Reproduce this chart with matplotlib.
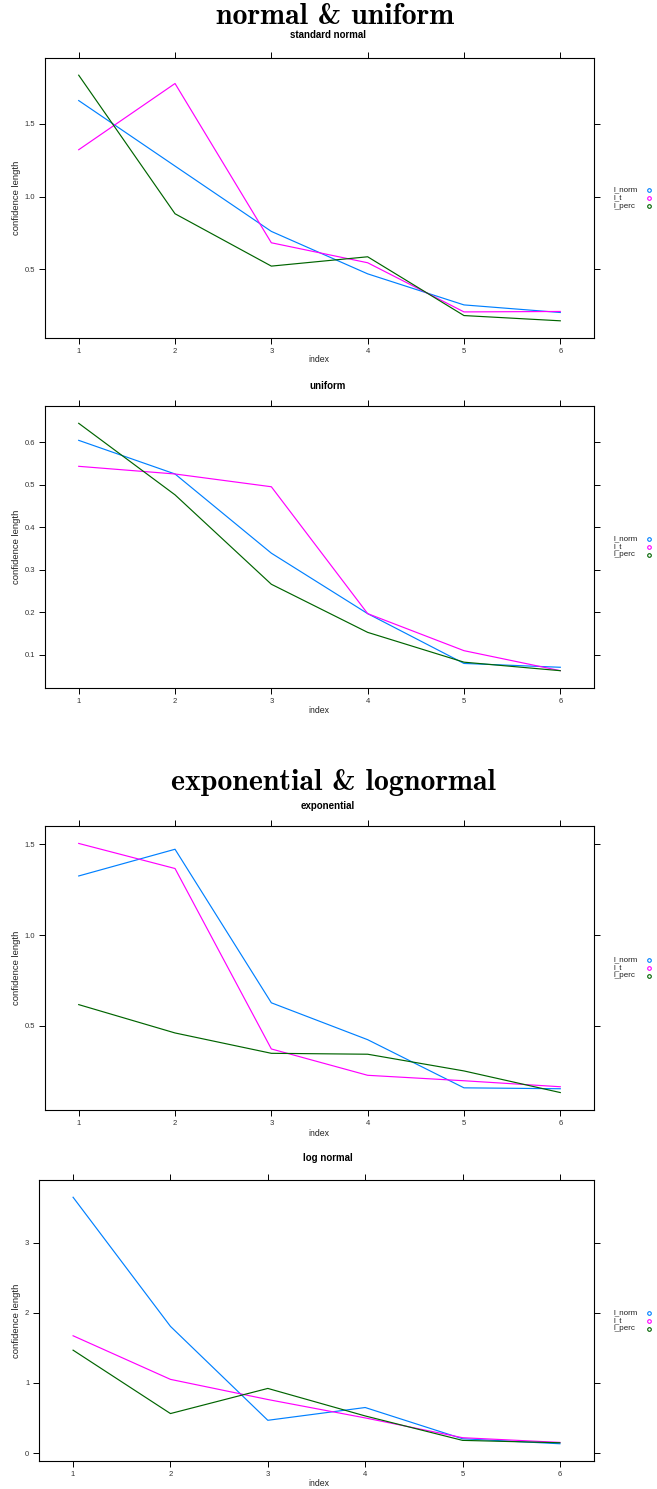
import matplotlib
matplotlib.use("Agg")
import matplotlib.pyplot as plt
import matplotlib.transforms as mtransforms
import numpy as np

plt.rcParams['font.family'] = ['Liberation Sans', 'DejaVu Sans']

index = [1, 2, 3, 4, 5, 6]
series_names = ["l_norm", "l_t", "l_perc"]
colors = ["#0080ff", "#ff00ff", "#006400"]

# standard normal
norm_l_norm = [1.658, 1.209, 0.761, 0.470, 0.257, 0.205]
norm_l_t = [1.321, 1.775, 0.683, 0.546, 0.209, 0.212]
norm_l_perc = [1.832, 0.882, 0.523, 0.587, 0.184, 0.148]

# uniform
unif_l_norm = [0.604, 0.525, 0.339, 0.197, 0.080, 0.071]
unif_l_t = [0.543, 0.525, 0.495, 0.197, 0.110, 0.063]
unif_l_perc = [0.644, 0.476, 0.266, 0.153, 0.083, 0.063]

# exponential
exp_l_norm = [1.325, 1.472, 0.627, 0.424, 0.159, 0.154]
exp_l_t = [1.504, 1.366, 0.373, 0.228, 0.198, 0.165]
exp_l_perc = [0.617, 0.461, 0.349, 0.344, 0.252, 0.133]

# log normal
lnorm_l_norm = [3.645, 1.806, 0.468, 0.650, 0.205, 0.134]
lnorm_l_t = [1.672, 1.051, 0.764, 0.502, 0.220, 0.153]
lnorm_l_perc = [1.467, 0.564, 0.922, 0.530, 0.182, 0.148]

W, H = 657, 1489
fig = plt.figure(figsize=(W / 100, H / 100), dpi=100)


def px_axes(x0, y0, x1, y1):
    return fig.add_axes([x0 / W, 1 - y1 / H, (x1 - x0) / W, (y1 - y0) / H])


def panel(box, title, title_y, xlabel_y, series, yticks, yticklabels):
    ax = px_axes(*box)
    for vals, c in zip(series, colors):
        ax.plot(index, vals, color=c, lw=0.85)
    allv = np.concatenate([np.asarray(s) for s in series])
    lo, hi = allv.min(), allv.max()
    pad = 0.07 * (hi - lo)
    ax.set_ylim(lo - pad, hi + pad)
    ax.set_xlim(1 - 0.07 * 5, 6 + 0.07 * 5)
    ax.set_xticks(index)
    ax.set_yticks(yticks)
    ax.set_yticklabels(yticklabels)
    ax.tick_params(direction='out', length=4, width=0.7, pad=3,
                   labelsize=5.5, labelcolor='#333333',
                   top=True, right=True)
    for s in ax.spines.values():
        s.set_linewidth(0.8)
    fig.text(328 / W, 1 - title_y / H, title, ha='center', va='center',
             fontsize=7, fontweight='bold')
    fig.text(319 / W, 1 - xlabel_y / H, "index", ha='center', va='center',
             fontsize=6.3, color='#222222')
    fig.text(17 / W, 1 - ((box[1] + box[3]) / 2) / H, "confidence length",
             ha='center', va='center', rotation=90, fontsize=6.8, color='#222222')
    # key to the right of the panel
    tr = mtransforms.blended_transform_factory(fig.transFigure, ax.transAxes)
    dy = 8 / (box[3] - box[1])
    for i, (name, c) in enumerate(zip(series_names, colors)):
        yy = 0.5 + (1 - i) * dy
        ax.text(613 / W, yy, name, transform=tr, fontsize=5.8,
                va='center', ha='left', color='#222222')
        ax.plot([649 / W], [yy], transform=tr, marker='o', ms=2.6, mfc='none',
                mec=c, mew=0.8, clip_on=False, ls='none')
    return ax


title_font = ['cmb10', 'DejaVu Serif']
fig.text(335 / W, 1 - 16 / H, "normal & uniform",
         ha='center', va='center', fontsize=21.5, family=title_font)
fig.text(333 / W, 1 - 783 / H, "exponential & lognormal",
         ha='center', va='center', fontsize=21.5, family=title_font)

panel((45, 58, 594, 338), "standard normal", 35, 360,
      [norm_l_norm, norm_l_t, norm_l_perc],
      [0.5, 1.0, 1.5], ["0.5", "1.0", "1.5"])
panel((45, 406, 594, 688), "uniform", 386, 711,
      [unif_l_norm, unif_l_t, unif_l_perc],
      [0.1, 0.2, 0.3, 0.4, 0.5, 0.6], ["0.1", "0.2", "0.3", "0.4", "0.5", "0.6"])
panel((45, 826, 594, 1110), "exponential", 806, 1133,
      [exp_l_norm, exp_l_t, exp_l_perc],
      [0.5, 1.0, 1.5], ["0.5", "1.0", "1.5"])
panel((39, 1180, 594, 1461), "log normal", 1158, 1483,
      [lnorm_l_norm, lnorm_l_t, lnorm_l_perc],
      [0, 1, 2, 3], ["0", "1", "2", "3"])

fig.savefig("out.png", dpi=100)
